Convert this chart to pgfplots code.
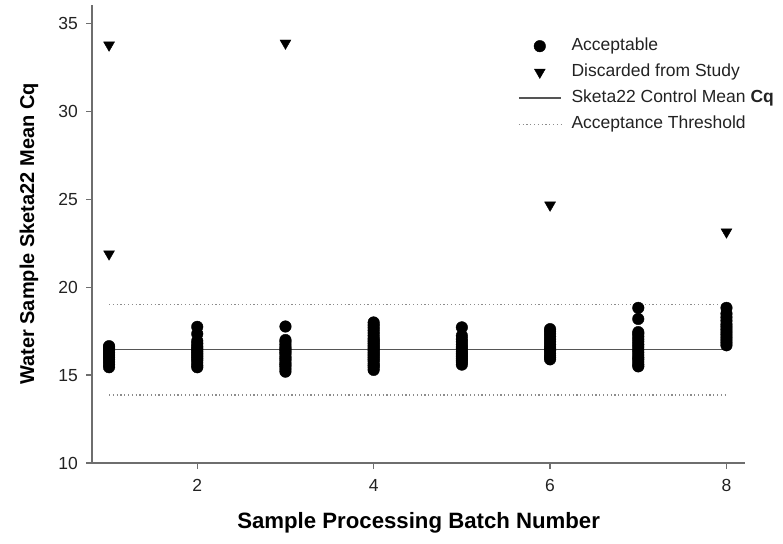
\documentclass[border=0pt]{standalone}
\usepackage{pgfplots}
\pgfplotsset{compat=1.18}
\usepackage{fontspec}
\setmainfont{Liberation Sans}
\definecolor{axisgray}{HTML}{6E6E6E}
\definecolor{meangray}{HTML}{555555}
\definecolor{dotgray}{HTML}{8C8C8C}
\definecolor{txt}{HTML}{222222}
\begin{document}
\begin{tikzpicture}
\begin{axis}[
  scale only axis,
  width=652.7pt, height=458pt,
  xmin=0.81, xmax=8.21, ymin=10, ymax=36.07,
  axis x line*=bottom, axis y line*=left,
  axis line style={axisgray, line width=1.6pt, -},
  xtick={2,4,6,8}, ytick={10,15,20,25,30,35},
  tick align=outside, major tick length=6pt,
  tick style={axisgray, line width=1.4pt},
  minor tick num=0,
  /pgf/number format/assume math mode=true,
  ticklabel style={font=\fontsize{17.5}{20}\selectfont, text=txt},
  yticklabel style={xshift=-5pt},
  xticklabel style={yshift=-7pt},
  xlabel={\textbf{Sample Processing Batch Number}},
  ylabel={\textbf{Water Sample Sketa22 Mean Cq}},
  xlabel style={font=\fontsize{22.2}{24}\selectfont, at={(axis description cs:0.5,-0.131)}, anchor=center},
  ylabel style={font=\fontsize{20}{24}\selectfont, at={(axis description cs:-0.097,0.5)}, anchor=center},
  clip=false,
  legend image code/.code={\draw[mark repeat=2,mark phase=2,#1] plot coordinates {(0pt,0pt) (21pt,0pt) (42pt,0pt)};},
  legend style={draw=none, fill=none, at={(rel axis cs:0.652,0.928)}, anchor=north west,
    font=\fontsize{17.5}{20}\selectfont, text=txt, inner sep=0pt,
    nodes={inner sep=0pt, text height=12.5pt, text depth=3.5pt},
    row sep=10pt, column sep=10pt},
  legend cell align=left,
]
\addplot[only marks, mark=*, mark size=5.8pt, black] coordinates {
(1,15.45)(1,15.6)(1,15.75)(1,15.9)(1,16.0)(1,16.1)(1,16.2)(1,16.3)(1,16.4)(1,16.5)(1,16.6)(1,16.65)
(2,15.45)(2,15.55)(2,15.7)(2,15.85)(2,15.95)(2,16.05)(2,16.15)(2,16.25)(2,16.35)(2,16.45)(2,16.55)(2,16.65)(2,16.8)(2,16.95)(2,17.35)(2,17.75)
(3,15.2)(3,15.35)(3,15.5)(3,15.6)(3,15.7)(3,15.85)(3,15.95)(3,16.05)(3,16.2)(3,16.3)(3,16.4)(3,16.5)(3,16.6)(3,16.75)(3,16.9)(3,17.0)(3,17.77)
(4,15.3)(4,15.45)(4,15.55)(4,15.65)(4,15.8)(4,15.9)(4,16.0)(4,16.1)(4,16.2)(4,16.3)(4,16.4)(4,16.5)(4,16.6)(4,16.7)(4,16.8)(4,16.9)(4,17.0)(4,17.1)(4,17.25)(4,17.4)(4,17.55)(4,17.7)(4,17.85)(4,18.0)
(5,15.6)(5,15.75)(5,15.85)(5,15.95)(5,16.05)(5,16.15)(5,16.25)(5,16.35)(5,16.5)(5,16.6)(5,16.75)(5,16.9)(5,17.05)(5,17.25)(5,17.72)
(6,15.9)(6,16.0)(6,16.1)(6,16.25)(6,16.4)(6,16.5)(6,16.6)(6,16.75)(6,16.9)(6,17.05)(6,17.2)(6,17.35)(6,17.5)(6,17.62)
(7,15.5)(7,15.6)(7,15.75)(7,15.9)(7,16.0)(7,16.15)(7,16.3)(7,16.45)(7,16.6)(7,16.75)(7,16.9)(7,17.05)(7,17.2)(7,17.35)(7,17.45)(7,18.2)(7,18.83)
(8,16.7)(8,16.85)(8,17.0)(8,17.15)(8,17.3)(8,17.45)(8,17.6)(8,17.75)(8,17.9)(8,18.1)(8,18.3)(8,18.5)(8,18.83)
};
\addlegendentry{Acceptable}
\addplot[only marks, mark=triangle*, mark size=6.3pt, mark options={rotate=180}, black] coordinates {
(1,33.79)(1,21.9)(3,33.9)(6,24.68)(8,23.15)
};
\addlegendentry{Discarded from Study}
\addplot[meangray, line width=1.5pt, mark=none] coordinates {(1,16.47)(8,16.47)};
\addlegendentry{Sketa22 Control Mean \textbf{Cq}}
\addplot[dotgray, line width=1.2pt, mark=none, dash pattern=on 1.2pt off 2.6pt] coordinates {(1,19.03)(8,19.03)};
\addlegendentry{Acceptance Threshold}
\addplot[dotgray, line width=1.2pt, mark=none, dash pattern=on 1.2pt off 2.6pt, forget plot] coordinates {(1,13.87)(8,13.87)};
\draw[axisgray, line width=1.6pt] (rel axis cs:0,0) -- ([xshift=-6pt]rel axis cs:0,0);
\end{axis}
\path (-92.3pt,-80pt) rectangle (690.7pt,463pt);
\end{tikzpicture}
\end{document}
